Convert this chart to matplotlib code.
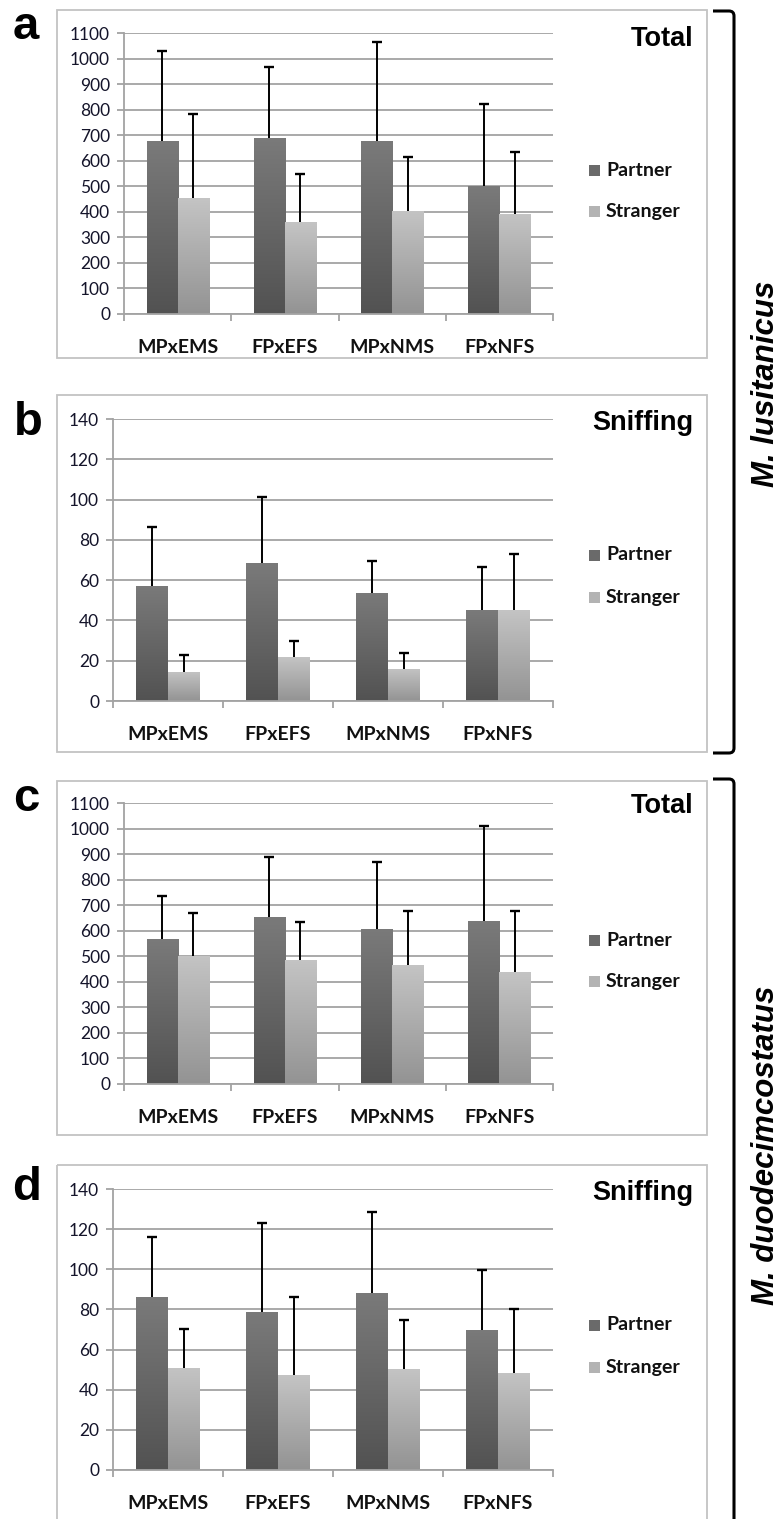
import numpy as np
import matplotlib
matplotlib.use("Agg")
import matplotlib.pyplot as plt
from matplotlib.patches import Rectangle, PathPatch
from matplotlib.path import Path
from matplotlib.colors import LinearSegmentedColormap

# figure size in pixels
W, H = 779, 1519

categories = ["MPxEMS", "FPxEFS", "MPxNMS", "FPxNFS"]
series = ["Partner", "Stranger"]

# a - M. lusitanicus, total
a_partner = [676, 689, 676, 500]
a_partner_sd = [352, 277, 387, 322]
a_stranger = [454, 359, 404, 393]
a_stranger_sd = [329, 190, 209, 240]

# b - M. lusitanicus, sniffing
b_partner = [57.2, 68.3, 53.7, 45.1]
b_partner_sd = [29.4, 33.2, 15.8, 21.2]
b_stranger = [14.4, 21.6, 16.1, 45.1]
b_stranger_sd = [8.3, 8.3, 7.5, 27.9]

# c - M. duodecimcostatus, total
c_partner = [568, 654, 608, 639]
c_partner_sd = [167, 235, 260, 370]
c_stranger = [502, 487, 467, 437]
c_stranger_sd = [167, 148, 209, 239]

# d - M. duodecimcostatus, sniffing
d_partner = [86.0, 78.7, 88.4, 69.8]
d_partner_sd = [30.1, 44.5, 40.3, 29.9]
d_stranger = [51.0, 47.3, 50.2, 48.5]
d_stranger_sd = [19.3, 38.9, 24.5, 31.5]

partner_cmap = LinearSegmentedColormap.from_list("p", ["#525252", "#7a7a7a"])
stranger_cmap = LinearSegmentedColormap.from_list("s", ["#939393", "#c4c4c4"])

GRID = "#a3a3a3"
BOX = "#c3c3c3"
TICKCOL = "#14142a"

fig = plt.figure(figsize=(W / 100, H / 100), dpi=100)

# background axes in pixel coordinates for boxes, brackets and labels
bg = fig.add_axes([0, 0, 1, 1], zorder=0)
bg.set_xlim(0, W)
bg.set_ylim(H, 0)
bg.axis("off")


def px_axes(left, right, top, bottom):
    return fig.add_axes([left / W, (H - bottom) / H, (right - left) / W, (bottom - top) / H], zorder=1)


def gradient_bars(ax, bars, cmap):
    grad = np.linspace(0, 1, 256).reshape(-1, 1)
    for b in bars:
        x0, y0 = b.get_x(), b.get_y()
        im = ax.imshow(grad, cmap=cmap, origin="lower", aspect="auto",
                       extent=(x0, x0 + b.get_width(), y0, y0 + b.get_height()), zorder=2)
        im.set_clip_path(b)
        b.set_alpha(0)


def upper_errorbar(ax, xs, means, sds):
    zeros = np.zeros(len(means))
    eb = ax.errorbar(xs, means, yerr=[zeros, sds], fmt="none", ecolor="black",
                     elinewidth=1.4, capsize=3.5, capthick=1.7, zorder=3)
    # only the upper cap is shown
    eb[1][0].set_visible(False)


def draw_panel(letter, title, partner, partner_sd, stranger, stranger_sd, ymax, ystep,
               box, plot, leg_y, letter_xy, title_y):
    # outer box
    bx0, by0, bx1, by1 = box
    bg.add_patch(Rectangle((bx0, by0), bx1 - bx0, by1 - by0, fill=False, ec=BOX, lw=1.3))
    bg.text(letter_xy[0], letter_xy[1], letter, fontsize=34, fontweight="bold",
            family="Liberation Sans", ha="left", va="baseline")
    bg.text(693, title_y, title, fontsize=19.5, fontweight="bold",
            family="Liberation Sans", ha="right", va="baseline")
    # legend
    for i, (name, col) in enumerate(zip(series, ["#6a6a6a", "#b3b3b3"])):
        yc = leg_y[i]
        bg.add_patch(Rectangle((589, yc - 5.5), 11, 11, fc=col, ec="none"))
        bg.text(606, yc, name, fontsize=14, fontweight="bold", family="Lato",
                ha="left", va="center", color="#111111")

    ax = px_axes(*plot)
    ax.set_facecolor("none")
    x = np.arange(len(categories))
    w = 0.29
    pb = ax.bar(x - w / 2, partner, w, color="#666666", zorder=2)
    sb = ax.bar(x + w / 2, stranger, w, color="#b0b0b0", zorder=2)
    gradient_bars(ax, pb, partner_cmap)
    gradient_bars(ax, sb, stranger_cmap)
    upper_errorbar(ax, x - w / 2, partner, partner_sd)
    upper_errorbar(ax, x + w / 2, stranger, stranger_sd)

    ax.set_xlim(-0.5, len(categories) - 0.5)
    ax.set_ylim(0, ymax)
    ax.set_yticks(np.arange(0, ymax + ystep / 2, ystep))
    ax.yaxis.grid(True, color=GRID, lw=1.3, zorder=0)
    ax.set_axisbelow(True)
    for s in ["top", "right"]:
        ax.spines[s].set_visible(False)
    for s in ["left", "bottom"]:
        ax.spines[s].set_color(GRID)
        ax.spines[s].set_linewidth(1.3)
    ax.tick_params(axis="y", direction="out", length=5, width=1.3, color=GRID,
                   pad=5, labelsize=12.5, labelcolor=TICKCOL)
    for lab in ax.get_yticklabels():
        lab.set_family("Lato")
    ax.set_xticks(x)
    ax.set_xticklabels(categories, fontsize=14, fontweight="bold", family="Lato", color="#111111")
    ax.set_xticks(np.arange(-0.5, len(categories)), minor=True)
    ax.tick_params(axis="x", which="major", length=0, pad=18)
    ax.tick_params(axis="x", which="minor", direction="out", length=5, width=1.3, color=GRID)
    return ax


draw_panel("a", "Total", a_partner, a_partner_sd, a_stranger, a_stranger_sd, 1100, 100,
           (57, 10, 707, 358), (124, 553, 33, 314), (170, 211), (13, 39), 46)
draw_panel("b", "Sniffing", b_partner, b_partner_sd, b_stranger, b_stranger_sd, 140, 20,
           (57, 395, 707, 752), (113, 553, 419, 701), (555, 597), (14, 435), 430)
draw_panel("c", "Total", c_partner, c_partner_sd, c_stranger, c_stranger_sd, 1100, 100,
           (57, 781, 707, 1135), (124, 553, 803, 1084), (940, 981), (13, 811), 813)
draw_panel("d", "Sniffing", d_partner, d_partner_sd, d_stranger, d_stranger_sd, 140, 20,
           (57, 1165, 707, 1540), (113, 553, 1189, 1470), (1325, 1367), (12, 1200), 1200)


def bracket(y0, y1):
    verts = [(713, y0), (729, y0), (734, y0), (734, y0 + 5), (734, y1 - 5),
             (734, y1), (729, y1), (713, y1)]
    codes = [Path.MOVETO, Path.LINETO, Path.CURVE3, Path.CURVE3, Path.LINETO,
             Path.CURVE3, Path.CURVE3, Path.LINETO]
    bg.add_patch(PathPatch(Path(verts, codes), fill=False, ec="black", lw=2.2))


bracket(11, 753)
bracket(779, 1560)

bg.text(766, 384, "M. lusitanicus", rotation=90, fontsize=22.5, fontweight="bold",
        fontstyle="italic", family="Liberation Sans", ha="center", va="center")
bg.text(766, 1145, "M. duodecimcostatus", rotation=90, fontsize=22.5, fontweight="bold",
        fontstyle="italic", family="Liberation Sans", ha="center", va="center")

fig.savefig("out.png", dpi=100)
